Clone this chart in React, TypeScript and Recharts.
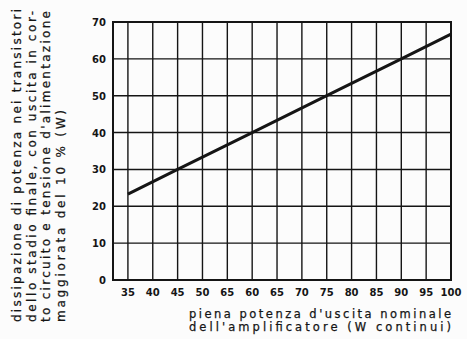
import React from "react";
import { LineChart, Line, XAxis, YAxis, CartesianGrid, ReferenceArea } from "recharts";

const xTicks = [35, 40, 45, 50, 55, 60, 65, 70, 75, 80, 85, 90, 95, 100];
const xTickLabels = ["35", "40", "45", "50", "65", "60", "65", "70", "75", "80", "85", "90", "95", "100"];
const yTicks = [0, 10, 20, 30, 40, 50, 60, 70];
const outputPower = [35, 45, 60, 75, 90, 100];
const dissipation = [23.3, 30, 40, 50, 60, 66.7];
const yTitleLines = [
  "dissipazione di potenza nei transistori",
  "dello stadio finale, con uscita in cor-",
  "to circuito e tensione d'alimentazione",
  "maggiorata del 10 % (W)",
];
const xTitleLines = ["piena potenza d'uscita nominale", "dell'amplificatore (W continui)"];

const data = outputPower.map((p, i) => ({ p, d: dissipation[i] }));

const FONT = "'DejaVu Sans', sans-serif";
const INK = "#151515";

const XTick = (props: any) => {
  const idx = xTicks.indexOf(props.payload.value);
  return (
    <text x={props.x} y={296} textAnchor="middle" fontFamily={FONT} fontWeight="bold" fontSize={10} fill={INK}>
      {idx >= 0 ? xTickLabels[idx] : props.payload.value}
    </text>
  );
};

const YTick = (props: any) => (
  <text x={106} y={props.y + 4} textAnchor="end" fontFamily={FONT} fontWeight="bold" fontSize={10} fill={INK}>
    {props.payload.value}
  </text>
);

const YTitle = () => {
  const xs = [21, 35.5, 50, 64.5];
  const lens = [313, 311, 311, 212];
  return (
    <g>
      {yTitleLines.map((t, i) => (
        <text
          key={i}
          transform={`translate(${xs[i]}, 322) rotate(-90)`}
          x={0}
          y={0}
          fontFamily={FONT}
          fontSize={12}
          fill={INK}
          stroke={INK}
          strokeWidth={0.25}
          textLength={lens[i]}
          lengthAdjust="spacing"
        >
          {t}
        </text>
      ))}
    </g>
  );
};

const XTitle = () => {
  const ys = [318, 331];
  return (
    <g>
      {xTitleLines.map((t, i) => (
        <text
          key={i}
          x={189}
          y={ys[i]}
          fontFamily={FONT}
          fontSize={11.5}
          fill={INK}
          stroke={INK}
          strokeWidth={0.25}
          textLength={262}
          lengthAdjust="spacing"
        >
          {t}
        </text>
      ))}
    </g>
  );
};

export default function App() {
  return (
    <div style={{ position: "absolute", left: 0, top: 0, width: 467, height: 339, background: "#fcfcfc" }}>
      <LineChart width={467} height={339} data={data} margin={{ top: 22, right: 16, left: 0, bottom: 0 }}>
        <CartesianGrid stroke={INK} strokeWidth={1.4} strokeOpacity={1} />
        <XAxis
          dataKey="p"
          type="number"
          domain={[32, 100]}
          ticks={xTicks}
          axisLine={false}
          tickLine={false}
          height={59}
          tick={<XTick />}
          interval={0}
          label={<XTitle />}
        />
        <YAxis
          type="number"
          domain={[0, 70]}
          ticks={yTicks}
          axisLine={false}
          tickLine={false}
          width={113}
          tick={<YTick />}
          interval={0}
          label={<YTitle />}
        />
        <ReferenceArea x1={32} x2={100} y1={0} y2={70} stroke={INK} strokeWidth={2} fill="none" fillOpacity={0} />
        <Line dataKey="d" stroke={INK} strokeWidth={3} dot={false} isAnimationActive={false} type="linear" />
      </LineChart>
    </div>
  );
}
